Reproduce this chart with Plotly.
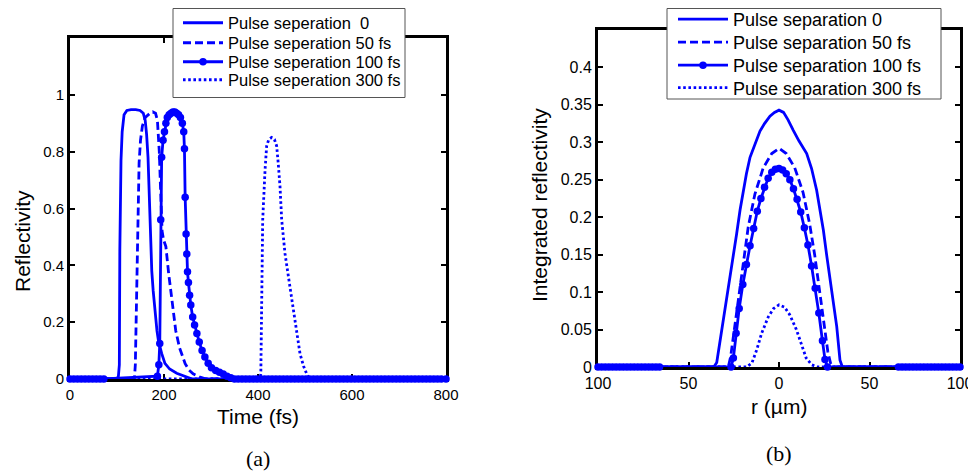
import plotly.graph_objects as go

# ---------------- Panel (a): reflectivity vs time ----------------
t_0 = [0, 100, 103, 105, 106, 108.5, 111, 115, 121, 130, 140, 149, 156, 160, 163, 166, 168, 170, 172, 174, 177, 181, 185, 188, 195, 202, 212, 227, 245, 260, 800]
r_0 = [0, 0, 0.01, 0.05, 0.45, 0.77, 0.87, 0.93, 0.945, 0.948, 0.948, 0.945, 0.935, 0.91, 0.86, 0.78, 0.68, 0.58, 0.5, 0.38, 0.31, 0.23, 0.17, 0.136, 0.09, 0.055, 0.035, 0.02, 0.008, 0, 0]

t_50 = [0, 137, 139, 141, 143, 145, 147, 150, 154, 160, 170, 176, 182, 186, 188, 190, 192, 194, 196, 199, 204, 210, 216, 221, 225, 233, 240, 245, 253, 262, 275, 290, 800]
r_50 = [0, 0, 0.05, 0.25, 0.45, 0.65, 0.76, 0.84, 0.89, 0.92, 0.935, 0.94, 0.935, 0.91, 0.87, 0.8, 0.7, 0.6, 0.52, 0.49, 0.466, 0.37, 0.29, 0.22, 0.17, 0.11, 0.075, 0.054, 0.032, 0.018, 0.008, 0, 0]

t_100 = [0, 8, 16, 24, 32, 40, 48, 56, 64, 72,
         186, 189, 191, 193, 195, 198, 201, 204, 207, 211, 215, 219, 223, 227, 231, 235, 239, 242, 243.5, 245, 247,
         248.5, 250, 252, 254.5, 257, 261, 265, 270, 275, 281, 287, 294, 301, 310, 318, 326, 334, 342,
         350, 358, 366, 374, 382, 390, 398, 406, 414, 422, 430, 438, 446, 454, 462, 470, 478, 486, 494,
         502, 510, 518, 526, 534, 542, 550, 558, 566, 574, 582, 590, 598, 606, 614, 622, 630, 638, 646,
         654, 662, 670, 678, 686, 694, 702, 710, 718, 726, 734, 742, 750, 758, 766, 774, 782, 790, 800]
r_100 = [0, 0, 0, 0, 0, 0, 0, 0, 0, 0,
         0.01, 0.05, 0.125, 0.56, 0.78, 0.84, 0.87, 0.9, 0.92, 0.93, 0.935, 0.94, 0.94, 0.935, 0.93, 0.92, 0.9, 0.87, 0.81, 0.64, 0.51,
         0.44, 0.377, 0.34, 0.295, 0.26, 0.218, 0.19, 0.16, 0.13, 0.1, 0.077, 0.055, 0.04, 0.03, 0.024, 0.018, 0.01, 0.004,
         0, 0, 0, 0, 0, 0, 0, 0, 0, 0, 0, 0, 0, 0, 0, 0, 0, 0, 0,
         0, 0, 0, 0, 0, 0, 0, 0, 0, 0, 0, 0, 0, 0, 0, 0, 0, 0, 0,
         0, 0, 0, 0, 0, 0, 0, 0, 0, 0, 0, 0, 0, 0, 0, 0, 0, 0, 0]

t_300 = [0, 404, 406, 406.7, 408, 410, 415, 418.4, 423, 429, 435, 439.7, 443, 446.8, 450.4, 457.4, 468, 478.7, 489.4, 497, 503.6, 510, 800]
r_300 = [0, 0, 0.018, 0.089, 0.324, 0.56, 0.736, 0.82, 0.843, 0.85, 0.843, 0.82, 0.76, 0.678, 0.56, 0.442, 0.324, 0.207, 0.089, 0.045, 0.018, 0, 0]

# ---------------- Panel (b): integrated reflectivity vs r ----------------
x_0 = [-100, -36, -34.4, -32.5, -30.8, -29, -27.1, -25, -23.4, -21.5, -19.7, -18, -16, -13, -10.5, -8, -5, -2.5, 0, 2.5, 5, 7.9, 11, 15.3, 18, 20.8, 22.8, 24.5, 26.3, 28.2, 30, 31.9, 33.7, 35, 100]
v_0 = [0, 0, 0.006, 0.035, 0.06, 0.09, 0.118, 0.15, 0.178, 0.21, 0.235, 0.258, 0.28, 0.3, 0.315, 0.325, 0.335, 0.34, 0.343, 0.34, 0.33, 0.316, 0.302, 0.285, 0.265, 0.236, 0.21, 0.183, 0.15, 0.116, 0.085, 0.054, 0.009, 0, 0]

x_50 = [-100, -28, -26.7, -24.7, -22.5, -19.7, -17, -13.3, -8.7, -4, 0, 4, 8.7, 13.3, 17, 19.7, 22.5, 24.7, 27, 28.5, 30, 100]
v_50 = [0, 0, 0.014, 0.049, 0.094, 0.143, 0.187, 0.231, 0.266, 0.285, 0.292, 0.285, 0.266, 0.233, 0.19, 0.15, 0.1, 0.06, 0.02, 0.005, 0, 0]

x_100 = [-100, -98, -96, -94, -92, -90, -88, -86, -84, -82, -80, -78, -76, -74, -72, -70, -68, -66,
         -26.5, -25.2, -23.7, -22, -20, -18, -16, -14, -12, -10, -8, -6, -4, -2, 0, 2, 4, 6, 8, 10, 12, 14, 16, 18, 20, 22, 24, 25.4, 26.8,
         66, 68, 70, 72, 74, 76, 78, 80, 82, 84, 86, 88, 90, 92, 94, 96, 98, 100]
v_100 = [0, 0, 0, 0, 0, 0, 0, 0, 0, 0, 0, 0, 0, 0, 0, 0, 0, 0,
         0, 0.012, 0.045, 0.078, 0.11, 0.137, 0.162, 0.185, 0.208, 0.225, 0.24, 0.252, 0.26, 0.264, 0.265, 0.263, 0.258, 0.25, 0.238, 0.224, 0.207, 0.186, 0.163, 0.135, 0.105, 0.072, 0.035, 0.01, 0,
         0, 0, 0, 0, 0, 0, 0, 0, 0, 0, 0, 0, 0, 0, 0, 0, 0, 0]

x_300 = [-100, -18, -15, -12.3, -9.6, -5.9, -3, 0, 3, 5.9, 9.6, 12.3, 15, 18, 21, 100]
v_300 = [0, 0, 0.005, 0.023, 0.045, 0.067, 0.078, 0.083, 0.08, 0.07, 0.05, 0.03, 0.012, 0.003, 0, 0]

names_a = ["Pulse seperation\u00a0 0", "Pulse seperation 50 fs", "Pulse seperation 100 fs", "Pulse seperation 300 fs"]
names_b = ["Pulse separation 0", "Pulse separation 50 fs", "Pulse separation 100 fs", "Pulse separation 300 fs"]

x_ticks_a = [0, 200, 400, 600, 800]
y_ticks_a = [0, 0.2, 0.4, 0.6, 0.8, 1]
y_ticktext_a = ["0", "0.2", "0.4", "0.6", "0.8", "1"]
x_ticks_b = [-100, -50, 0, 50, 100]
x_ticktext_b = ["100", "50", "0", "50", "100"]
y_ticks_b = [0, 0.05, 0.1, 0.15, 0.2, 0.25, 0.3, 0.35, 0.4]
y_ticktext_b = ["0", "0.05", "0.1", "0.15", "0.2", "0.25", "0.3", "0.35", "0.4"]

BLUE = "#0000ff"
LW = 2.8
styles = [
    dict(mode="lines", line=dict(color=BLUE, width=LW)),
    dict(mode="lines", line=dict(color=BLUE, width=LW, dash="8px,4px")),
    dict(mode="lines+markers", line=dict(color=BLUE, width=LW), marker=dict(color=BLUE, size=7.5, symbol="circle")),
    dict(mode="lines", line=dict(color=BLUE, width=LW, dash="2.6px,2.6px")),
]

# The page body has an 8 px margin: the figure is drawn from (8, 8) of the window.
OFF = 8
W, H = 976 - OFF, 473 - OFF
def px(X):
    return (X - OFF) / W
def py(Y):
    return 1 - (Y - OFF) / H

FONT = "Liberation Sans, Arial, sans-serif"
SERIF = "Liberation Serif, Times New Roman, serif"

# legend rows (window pixels): left panel and right panel
rows_a = [23, 43, 62, 80]
rows_b = [19.5, 42.5, 65.5, 88]

fig = go.Figure()
series_a = [(t_0, r_0), (t_50, r_50), (t_100, r_100), (t_300, r_300)]
series_b = [(x_0, v_0), (x_50, v_50), (x_100, v_100), (x_300, v_300)]
legends = {}
for i, ((xs, ys), nm, st) in enumerate(zip(series_a, names_a, styles)):
    lg = "legend" if i == 0 else "legend%d" % (i + 1)
    fig.add_trace(go.Scatter(x=xs, y=ys, name=nm, xaxis="x", yaxis="y", legend=lg,
                             cliponaxis=False, **st))
    legends[lg] = dict(x=px(178), y=py(rows_a[i]), xanchor="left", yanchor="middle",
                       bgcolor="rgba(0,0,0,0)", borderwidth=0, itemwidth=40,
                       font=dict(family=FONT, size=16.5, color="black"))
for i, ((xs, ys), nm, st) in enumerate(zip(series_b, names_b, styles)):
    lg = "legend%d" % (i + 5)
    fig.add_trace(go.Scatter(x=xs, y=ys, name=nm, xaxis="x2", yaxis="y2", legend=lg,
                             cliponaxis=False, **st))
    legends[lg] = dict(x=px(673), y=py(rows_b[i]), xanchor="left", yanchor="middle",
                       bgcolor="rgba(0,0,0,0)", borderwidth=0, itemwidth=50,
                       font=dict(family=FONT, size=18, color="black"))

def ax(**kw):
    base = dict(showline=True, linewidth=3, linecolor="black", mirror="ticks",
                ticks="inside", ticklen=5, tickwidth=2, tickcolor="black",
                showgrid=False, zeroline=False, layer="below traces", automargin=False,
                tickfont=dict(family=FONT, size=15, color="black"))
    base.update(kw)
    return base

fig.update_layout(
    width=W, height=H, margin=dict(l=0, r=0, t=0, b=0, autoexpand=False),
    paper_bgcolor="white", plot_bgcolor="white",
    font=dict(family=FONT, color="black"),
    xaxis=ax(domain=[px(70), px(446)], range=[0, 800], tickvals=x_ticks_a, anchor="y", ticklabelstandoff=0),
    yaxis=ax(domain=[py(379), py(38)], range=[0, 1.2], tickvals=y_ticks_a, ticktext=y_ticktext_a, anchor="x"),
    xaxis2=ax(domain=[px(598), px(960)], range=[-100, 100], tickvals=x_ticks_b, ticktext=x_ticktext_b,
              anchor="y2", tickfont=dict(family=FONT, size=16, color="black"), ticklabelstandoff=0),
    yaxis2=ax(domain=[py(367), py(30)], range=[0, 0.45], tickvals=y_ticks_b, ticktext=y_ticktext_b,
              anchor="x2", tickfont=dict(family=FONT, size=16, color="black")),
    showlegend=True,
    **legends,
)

# legend frames
for (x0, x1, y0, y1) in [(173, 405, 8.5, 97.5), (667, 941, 8.5, 99)]:
    fig.add_shape(type="rect", xref="paper", yref="paper", x0=px(x0), x1=px(x1), y0=py(y1), y1=py(y0),
                  line=dict(color="#555555", width=1), fillcolor="white", layer="above")

annots = [
    dict(text="Reflectivity", x=22, y=241, textangle=-90, size=21, family=FONT),
    dict(text="Integrated reflectivity", x=540, y=205, textangle=-90, size=21, family=FONT),
    dict(text="Time (fs)", x=258, y=416, textangle=0, size=21, family=FONT),
    dict(text="r (\u00b5m)", x=779, y=406, textangle=0, size=21, family=FONT),
    dict(text="(a)", x=258, y=458, textangle=0, size=22, family=SERIF),
    dict(text="(b)", x=779, y=453, textangle=0, size=22, family=SERIF),
]
for a in annots:
    fig.add_annotation(text=a["text"], x=px(a["x"]), y=py(a["y"]), xref="paper", yref="paper",
                       xanchor="center", yanchor="middle", textangle=a["textangle"], showarrow=False,
                       font=dict(family=a["family"], size=a["size"], color="black"))

fig.write_html("out.html")
